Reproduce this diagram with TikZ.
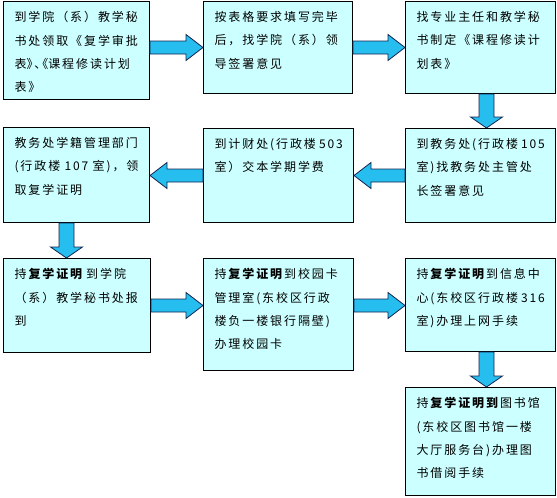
\documentclass[tikz,border=0pt]{standalone}
\usepackage{fontspec}
\setmainfont{Noto Sans CJK SC}[LetterSpace=16]
\usepackage{xcolor}
\usetikzlibrary{calc}

\definecolor{boxfill}{RGB}{204,255,255}
\definecolor{arrowfill}{RGB}{38,190,238}
\definecolor{arrowline}{RGB}{20,36,80}

\newcommand\boxtext[3]{\parbox[t][#2][t]{#1}{\baselineskip=23.3pt #3}}
\newcommand\narrow[1]{{\addfontfeatures{RawFeature=+halt}#1}}

\tikzset{
  tiplen/.store in=\tiplen, tiplen=17pt,
  shafthw/.store in=\shafthw, shafthw=6.5pt,
  headhw/.store in=\headhw, headhw=13pt,
  vert/.style={tiplen=11pt, shafthw=7.5pt, headhw=16pt},
}

\begin{document}
\begin{tikzpicture}[x=1pt,y=-1pt,
  stagebox/.style={draw=black, line width=1pt, fill=boxfill, anchor=north west,
    inner xsep=11pt, inner ysep=10pt, font=\fontsize{12pt}{23.3pt}\selectfont},
  blockarrow/.style={draw=arrowline, fill=arrowfill, line width=0.8pt, line join=miter,
    to path={($(\tikztotarget)!\tiplen!(\tikztostart)$) coordinate (hb)
      ($(\tikztostart)!\shafthw!90:(\tikztotarget)$) -- ($(hb)!\shafthw!90:(\tikztotarget)$)
      -- ($(hb)!\headhw!90:(\tikztotarget)$) -- (\tikztotarget)
      -- ($(hb)!\headhw!-90:(\tikztotarget)$) -- ($(hb)!\shafthw!-90:(\tikztotarget)$)
      -- ($(\tikztostart)!\shafthw!-90:(\tikztotarget)$) -- cycle}}]
\useasboundingbox (0,0) rectangle (557,498);

% row 1
\node[stagebox] (shenqing) at (3,1)
  {\boxtext{124pt}{78pt}{到学院（系）教学秘\\书处领取《复学审批\\表\narrow{》、《}课程修读计划\\表》}};
\node[stagebox] (qianshu) at (203,1)
  {\boxtext{127pt}{72pt}{按表格要求填写完毕\\后，找学院（系）领\\导签署意见}};
\node[stagebox] (jihua) at (405,1)
  {\boxtext{128pt}{72pt}{找专业主任和教学秘\\书制定《课程修读计\\划表》}};

% row 2
\node[stagebox] (zhengming) at (3,127)
  {\boxtext{124pt}{75pt}{教务处学籍管理部门\\(行政楼~107~室)，领\\取复学证明}};
\node[stagebox] (caiwu) at (203,128)
  {\boxtext{128pt}{74pt}{到计财处(行政楼~503\\室）交本学期学费}};
\node[stagebox] (jiaowu) at (405,128)
  {\boxtext{128pt}{74pt}{到教务处(行政楼~105\\室)找教务处主管处\\长签署意见}};

% row 3
\node[stagebox] (baodao) at (3,258)
  {\boxtext{125pt}{74pt}{持\,\textbf{复学证明}\,到学院\\（系）教学秘书处报\\到}};
\node[stagebox] (xiaoyuanka) at (203,258)
  {\boxtext{128pt}{92pt}{持\textbf{复学证明}到校园卡\\管理室(东校区行政\\楼负一楼银行隔壁)\\办理校园卡}};
\node[stagebox] (shangwang) at (405,258)
  {\boxtext{128pt}{73pt}{持\textbf{复学证明}到信息中\\心(东校区行政楼~316\\室)办理上网手续}};

% row 4
\node[stagebox] (tushu) at (405,387)
  {\boxtext{128pt}{88pt}{持\textbf{复学证明到}图书馆\\(东校区图书馆一楼\\大厅服务台)办理图\\书借阅手续}};

% arrows
\draw[blockarrow] (shenqing.east |- qianshu.west) to (qianshu.west);
\draw[blockarrow] (qianshu.east) to (qianshu.east -| jihua.west);
\draw[blockarrow, vert] ([xshift=6pt]jihua.south) to ([xshift=6pt]jihua.south |- jiaowu.north);
\draw[blockarrow] (jiaowu.west) to (jiaowu.west -| caiwu.east);
\draw[blockarrow] (caiwu.west) to (caiwu.west -| zhengming.east);
\draw[blockarrow, vert] ([xshift=-10pt]zhengming.south) to ([xshift=-10pt]zhengming.south |- baodao.north);
\draw[blockarrow] (baodao.east) to (baodao.east -| xiaoyuanka.west);
\draw[blockarrow] (baodao.east -| xiaoyuanka.east) to (baodao.east -| shangwang.west);
\draw[blockarrow, vert] ([xshift=6pt]shangwang.south) to ([xshift=6pt]shangwang.south |- tushu.north);
\end{tikzpicture}
\end{document}
